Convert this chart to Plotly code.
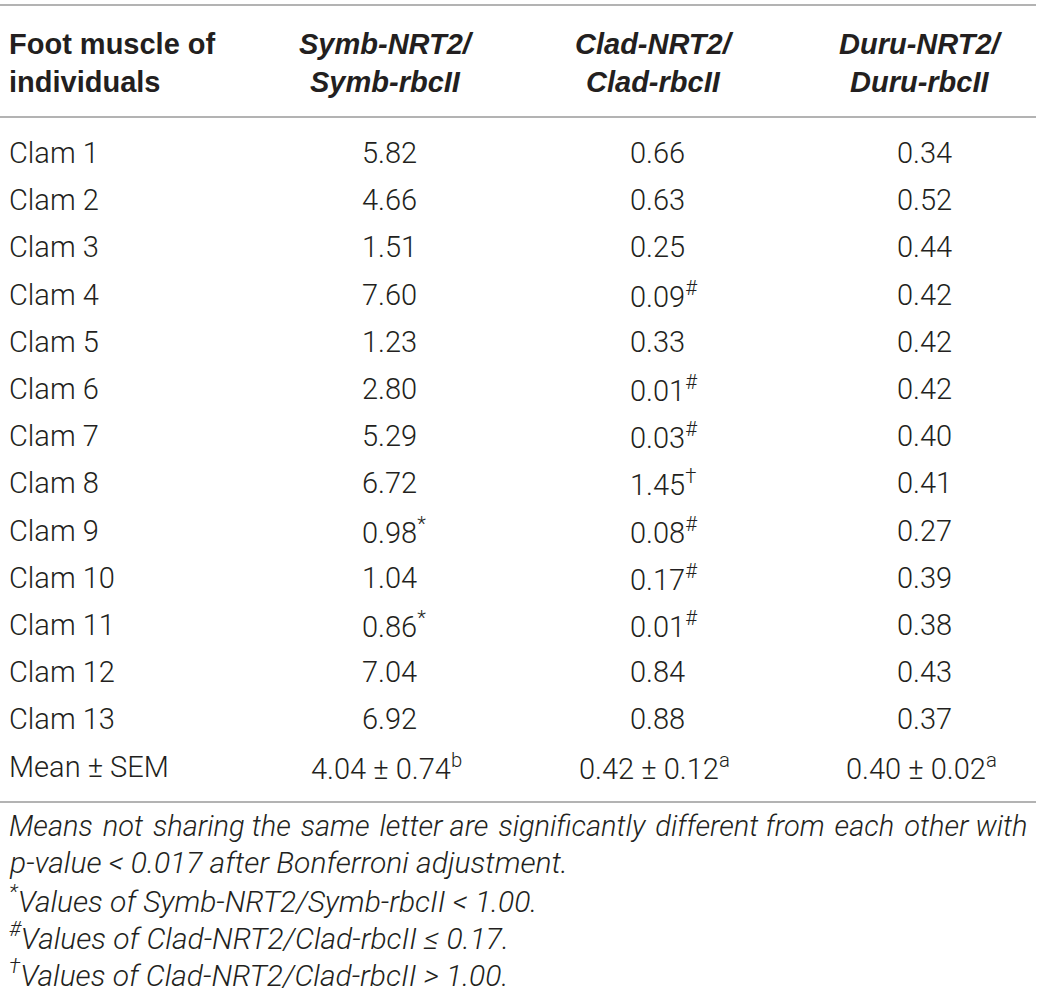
import plotly.graph_objects as go

# ---- data ----
row_labels = ["Clam 1", "Clam 2", "Clam 3", "Clam 4", "Clam 5", "Clam 6", "Clam 7",
              "Clam 8", "Clam 9", "Clam 10", "Clam 11", "Clam 12", "Clam 13"]
symb_vals = [5.82, 4.66, 1.51, 7.60, 1.23, 2.80, 5.29, 6.72, 0.98, 1.04, 0.86, 7.04, 6.92]
symb_marks = ["", "", "", "", "", "", "", "", "*", "", "*", "", ""]
clad_vals = [0.66, 0.63, 0.25, 0.09, 0.33, 0.01, 0.03, 1.45, 0.08, 0.17, 0.01, 0.84, 0.88]
clad_marks = ["", "", "", "#", "", "#", "#", "\u2020", "#", "#", "#", "", ""]
duru_vals = [0.34, 0.52, 0.44, 0.42, 0.42, 0.42, 0.40, 0.41, 0.27, 0.39, 0.38, 0.43, 0.37]
duru_marks = [""] * 13

mean_label = "Mean \u00b1 SEM"
means = [4.04, 0.42, 0.40]
sems = [0.74, 0.12, 0.02]
letters = ["b", "a", "a"]

header_first = ["Foot muscle of", "individuals"]
header_cols = [["Symb-NRT2/", "Symb-rbcII"], ["Clad-NRT2/", "Clad-rbcII"], ["Duru-NRT2/", "Duru-rbcII"]]

footnote_justified = "Means not sharing the same letter are significantly different from each other with"
footnotes = [
    "p-value < 0.017 after Bonferroni adjustment.",
    "<sup>*</sup>Values of Symb-NRT2/Symb-rbcII < 1.00.",
    "<sup>#</sup>Values of Clad-NRT2/Clad-rbcII \u2264 0.17.",
    "<sup>\u2020</sup>Values of Clad-NRT2/Clad-rbcII > 1.00.",
]

# ---- layout constants ----
W, H = 1041, 996
BODY_FONT = "Roboto, Liberation Sans, Arial, sans-serif"
HEAD_FONT = "Liberation Sans, Arial, sans-serif"
TXT = "#231f20"
BODY = 29
HEAD = 29
FOOT = 30
col_x = [386, 654, 921]
left_x = 7
row_y0 = 153
pitch = 47.2
num_w = 1.81 * BODY  # width of a "d.dd" number in the body font


def bfont(size=BODY):
    return dict(size=size, color=TXT, family=BODY_FONT, weight=300)


fig = go.Figure()
fig.add_trace(go.Scatter(x=[0, W], y=[0, H], mode="markers",
                         marker=dict(opacity=0), hoverinfo="skip", showlegend=False))

ann = []
# header
ann.append(dict(x=left_x, y=63, xanchor="left", yanchor="middle",
                text="<b>" + "<br>".join(header_first) + "</b>", align="left",
                font=dict(size=HEAD, color=TXT, family=HEAD_FONT)))
for cx, lines in zip(col_x, header_cols):
    ann.append(dict(x=cx, y=63, xanchor="center", yanchor="middle",
                    text="<b><i>" + "<br>".join(lines) + "</i></b>", align="center",
                    font=dict(size=HEAD, color=TXT, family=HEAD_FONT)))

# body rows
cols = [(symb_vals, symb_marks), (clad_vals, clad_marks), (duru_vals, duru_marks)]
for i, lab in enumerate(row_labels):
    y = row_y0 + i * pitch
    ann.append(dict(x=left_x, y=y, xanchor="left", yanchor="middle", text=lab, font=bfont()))
    for cx, (vals, marks) in zip(col_x, cols):
        t = f"{vals[i]:.2f}" + (f"<sup>{marks[i]}</sup>" if marks[i] else "")
        ann.append(dict(x=cx - num_w / 2, y=y, xanchor="left", yanchor="middle", text=t,
                        font=bfont()))

# mean row
ym = row_y0 + len(row_labels) * pitch
ann.append(dict(x=left_x, y=ym, xanchor="left", yanchor="middle", text=mean_label, font=bfont()))
for cx, m, s, l in zip(col_x, means, sems, letters):
    ann.append(dict(x=cx, y=ym, xanchor="center", yanchor="middle",
                    text=f"{m:.2f}\u00a0\u00b1\u00a0{s:.2f}<sup>{l}</sup>",
                    font=bfont()))

# footnotes
foot_y0 = 826
foot_pitch = 36.8
words = footnote_justified.split(" ")
just = words[0]
for k, wd in enumerate(words[1:]):
    just += ("\u200a " if k % 3 != 2 else " ") + wd
ann.append(dict(x=left_x, y=foot_y0, xanchor="left", yanchor="middle",
                text="<i>" + just + "</i>", font=bfont()))
for j, f in enumerate(footnotes):
    ann.append(dict(x=left_x, y=foot_y0 + (j + 1) * foot_pitch, xanchor="left", yanchor="middle",
                    text="<i>" + f + "</i>", font=bfont(FOOT)))

for a in ann:
    a.update(xref="x", yref="y", showarrow=False)

shapes = []
for yl in [5, 117, 802]:
    shapes.append(dict(type="line", xref="x", yref="y", x0=0, x1=1036, y0=yl, y1=yl,
                       line=dict(color="#9a9a9a", width=1.5)))

fig.update_layout(
    width=W, height=H, margin=dict(l=0, r=0, t=0, b=0),
    paper_bgcolor="white", plot_bgcolor="white",
    xaxis=dict(range=[0, W], visible=False, fixedrange=True),
    yaxis=dict(range=[H, 0], visible=False, fixedrange=True),
    annotations=ann, shapes=shapes, showlegend=False,
)
fig.write_html("out.html", config={"displayModeBar": False},
               post_script="document.body.style.margin='0';")
